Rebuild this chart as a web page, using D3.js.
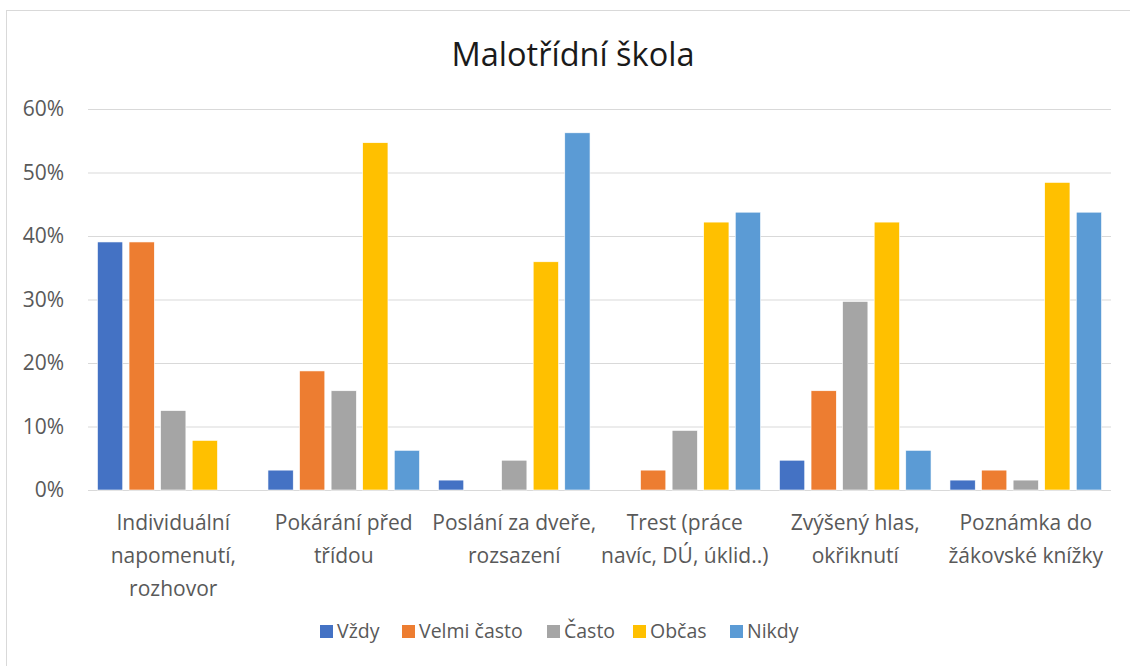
<!DOCTYPE html>
<html>
<head>
<meta charset="utf-8">
<script src="https://cdn.jsdelivr.net/npm/d3@7"></script>
<style>
  body { margin: 0; background: #fff; }
  text { font-family: "Open Sans", sans-serif; }
</style>
</head>
<body>
<div id="chart"></div>
<script>
// data (share of answers, 0..1)
var categories = ["Individuální napomenutí, rozhovor", "Pokárání před třídou", "Poslání za dveře, rozsazení",
                  "Trest (práce navíc, DÚ, úklid..)", "Zvýšený hlas, okřiknutí", "Poznámka do žákovské knížky"];
var categoryLines = [
  ["Individuální", "napomenutí,", "rozhovor"],
  ["Pokárání před", "třídou"],
  ["Poslání za dveře,", "rozsazení"],
  ["Trest (práce", "navíc, DÚ, úklid..)"],
  ["Zvýšený hlas,", "okřiknutí"],
  ["Poznámka do", "žákovské knížky"]
];
var seriesNames = ["Vždy", "Velmi často", "Často", "Občas", "Nikdy"];
var vzdy       = [0.3906, 0.0313, 0.0156, 0,      0.0469, 0.0156];
var velmiCasto = [0.3906, 0.1875, 0,      0.0313, 0.1563, 0.0313];
var casto      = [0.125,  0.1563, 0.0469, 0.0938, 0.2969, 0.0156];
var obcas      = [0.0781, 0.5469, 0.3594, 0.4219, 0.4219, 0.4844];
var nikdy      = [0,      0.0625, 0.5625, 0.4375, 0.0625, 0.4375];
var yTicks = [0, 0.1, 0.2, 0.3, 0.4, 0.5, 0.6];
var colors = ["#4472C4", "#ED7D31", "#A5A5A5", "#FFC000", "#5B9BD5"];

var allSeries = [vzdy, velmiCasto, casto, obcas, nikdy];

var W = 1130, H = 666;
var margin = {top: 109, right: 19, bottom: 176, left: 88},
    width = W - margin.left - margin.right,
    height = H - margin.top - margin.bottom;

var svg = d3.select("#chart").append("svg")
  .attr("width", W).attr("height", H);

// chart frame (only top/left visible in the picture)
svg.append("rect")
  .attr("x", 6.5).attr("y", 10.5)
  .attr("width", W + 10).attr("height", H + 10)
  .attr("fill", "none").attr("stroke", "#d9d9d9").attr("stroke-width", 1);

svg.append("text")
  .attr("x", 573).attr("y", 66)
  .attr("text-anchor", "middle")
  .style("font-size", "32.5px")
  .style("fill", "#1a1a1a")
  .text("Malotřídní škola");

var g = svg.append("g")
  .attr("transform", "translate(" + margin.left + "," + margin.top + ")");

var x0 = d3.scaleBand().domain(categories).range([0, width]).padding(0);
var x1 = d3.scaleBand().domain(seriesNames).range([0, x0.bandwidth()])
  .paddingInner(0.2).paddingOuter(0.3);
var y = d3.scaleLinear().domain([0, 0.6]).range([height, 0]);

// gridlines
g.append("g")
  .call(d3.axisLeft(y).tickValues(yTicks).tickSize(-width).tickFormat(""))
  .call(function(s) {
    s.select(".domain").remove();
    s.selectAll("line").attr("stroke", "#d9d9d9").attr("stroke-width", 1);
  });

// y labels
g.append("g")
  .call(d3.axisLeft(y).tickValues(yTicks).tickSize(0).tickPadding(24).tickFormat(d3.format(".0%")))
  .call(function(s) {
    s.select(".domain").remove();
    s.selectAll("text").style("font-size", "21px").style("fill", "#595959")
      .style("font-family", "'Open Sans', sans-serif");
  });

// bars
var rows = categories.map(function(c, i) {
  return seriesNames.map(function(s, j) { return {cat: c, key: s, value: allSeries[j][i], j: j}; });
});

g.selectAll(".grp")
  .data(rows)
  .enter().append("g")
    .attr("transform", function(d) { return "translate(" + x0(d[0].cat) + ",0)"; })
  .selectAll("rect")
  .data(function(d) { return d; })
  .enter().append("rect")
    .attr("x", function(d) { return x1(d.key); })
    .attr("y", function(d) { return y(d.value); })
    .attr("width", x1.bandwidth())
    .attr("height", function(d) { return height - y(d.value); })
    .attr("fill", function(d) { return colors[d.j]; })
    .attr("stroke", "#fff").attr("stroke-width", 0.6);

// category labels
var lab = g.selectAll(".cat")
  .data(categories)
  .enter().append("text")
    .attr("x", function(d) { return x0(d) + x0.bandwidth() / 2; })
    .attr("y", height + 40)
    .attr("text-anchor", "middle")
    .style("font-size", "21px")
    .style("fill", "#595959");
lab.selectAll("tspan")
  .data(function(d, i) { return categoryLines[i]; })
  .enter().append("tspan")
    .attr("x", function() { return d3.select(this.parentNode).attr("x"); })
    .attr("dy", function(d, i) { return i === 0 ? 0 : 33; })
    .text(function(d) { return d; });

// legend
var legendX = [320, 402, 547, 633, 730];
var leg = svg.append("g").selectAll("g")
  .data(seriesNames)
  .enter().append("g")
    .attr("transform", function(d, i) { return "translate(" + legendX[i] + ",625)"; });
leg.append("rect")
  .attr("width", 13).attr("height", 13)
  .attr("fill", function(d, i) { return colors[i]; });
leg.append("text")
  .attr("x", 17).attr("y", 13)
  .style("font-size", "19.5px")
  .style("fill", "#595959")
  .text(function(d) { return d; });
</script>
</body>
</html>
